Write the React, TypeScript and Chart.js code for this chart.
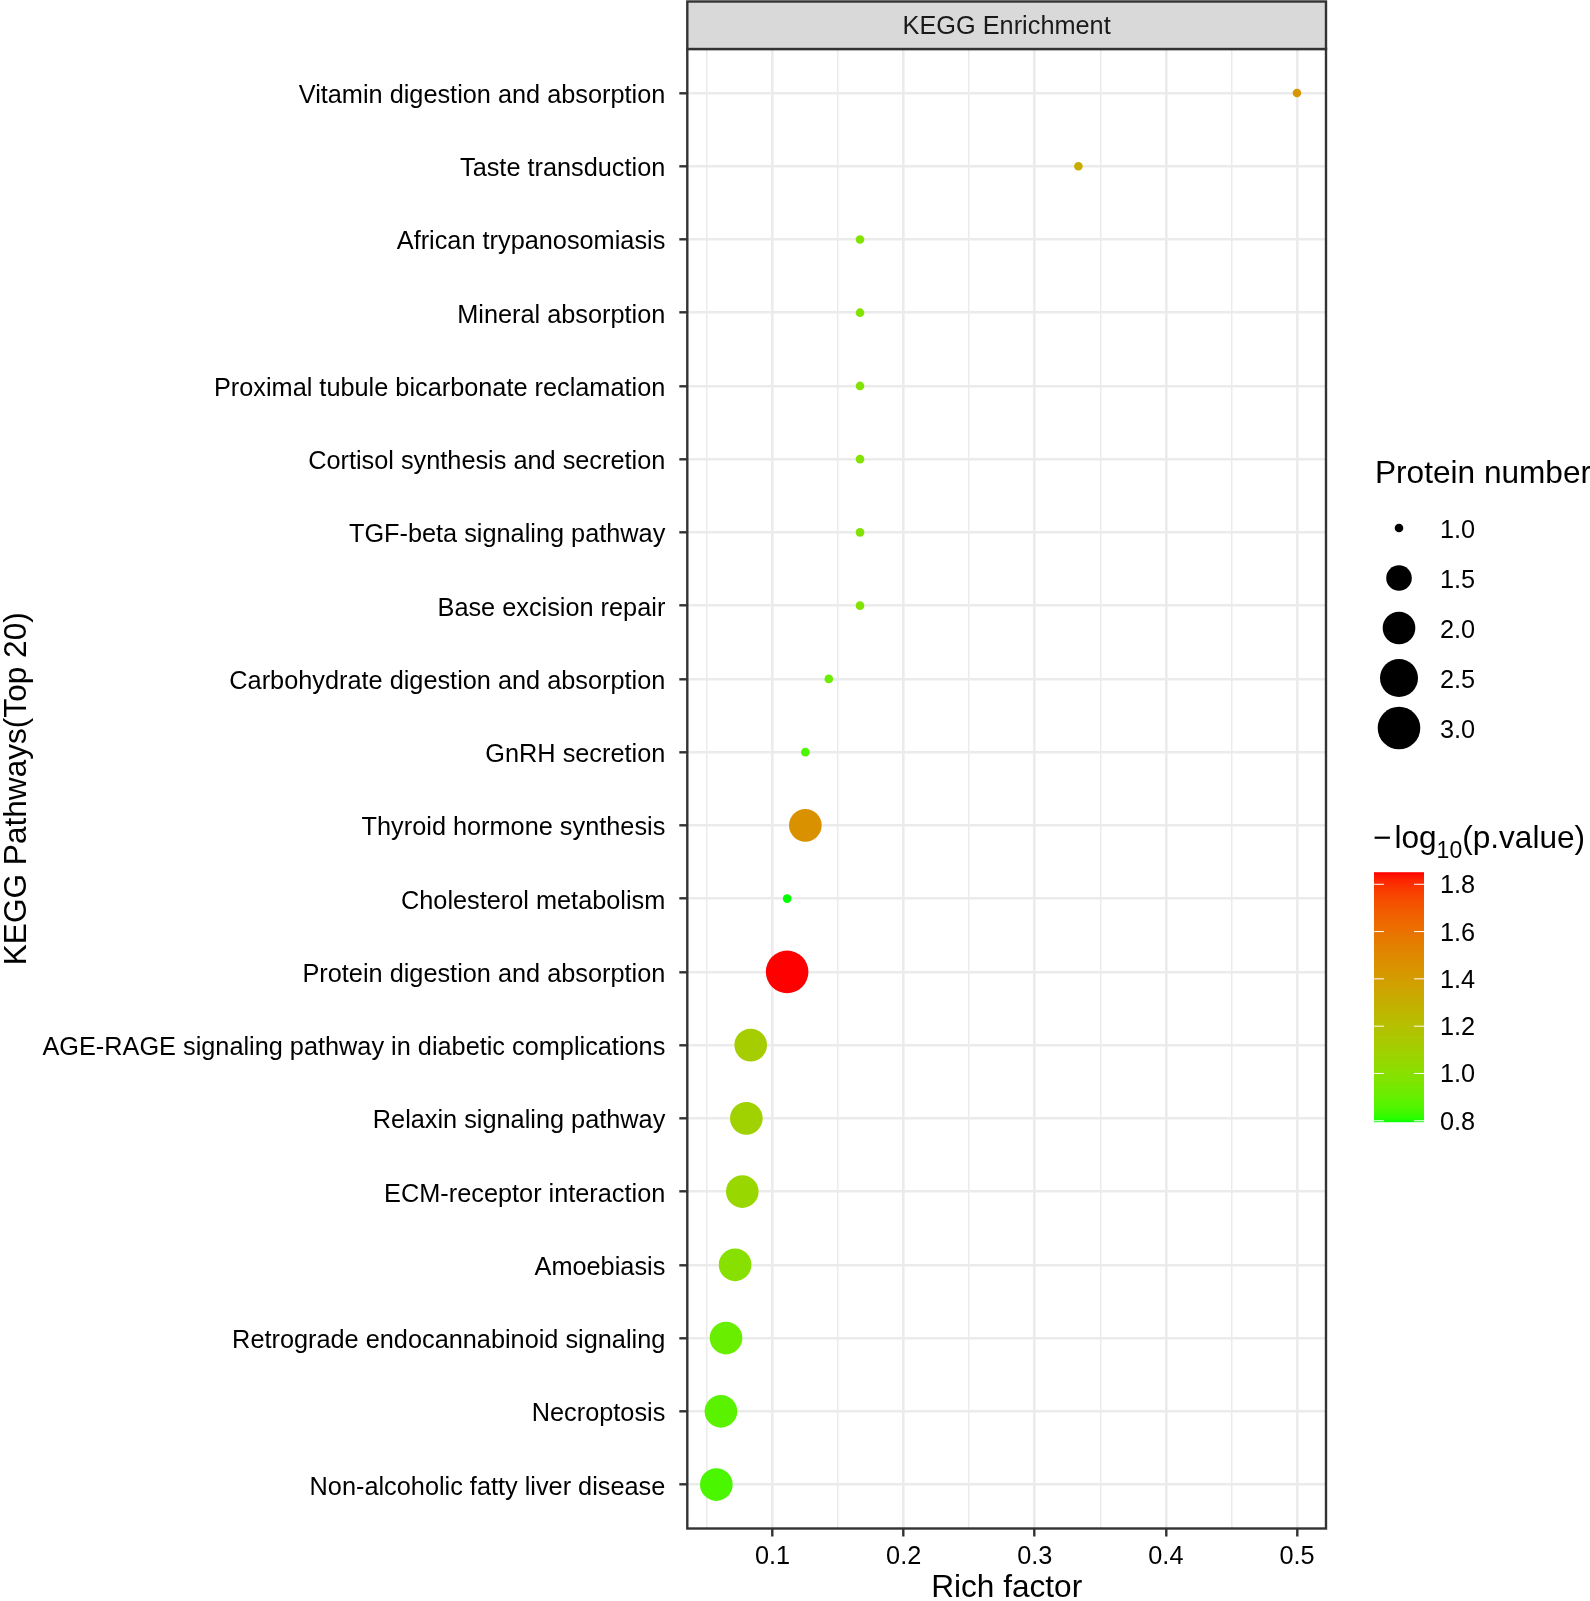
import React, { useEffect, useRef } from 'react';
import { Chart, registerables } from 'chart.js';

Chart.register(...registerables);

// ---------------- data (top to bottom) ----------------
const pathways = [
  'Vitamin digestion and absorption',
  'Taste transduction',
  'African trypanosomiasis',
  'Mineral absorption',
  'Proximal tubule bicarbonate reclamation',
  'Cortisol synthesis and secretion',
  'TGF-beta signaling pathway',
  'Base excision repair',
  'Carbohydrate digestion and absorption',
  'GnRH secretion',
  'Thyroid hormone synthesis',
  'Cholesterol metabolism',
  'Protein digestion and absorption',
  'AGE-RAGE signaling pathway in diabetic complications',
  'Relaxin signaling pathway',
  'ECM-receptor interaction',
  'Amoebiasis',
  'Retrograde endocannabinoid signaling',
  'Necroptosis',
  'Non-alcoholic fatty liver disease',
];
const richFactor = [
  0.5, 0.3333, 0.1667, 0.1667, 0.1667, 0.1667, 0.1667, 0.1667, 0.1429, 0.125,
  0.125, 0.1111, 0.1111, 0.0833, 0.08, 0.0769, 0.0714, 0.0645, 0.0606, 0.0571,
];
const proteinNumber = [1, 1, 1, 1, 1, 1, 1, 1, 1, 1, 2, 1, 3, 2, 2, 2, 2, 2, 2, 2];
const negLog10P = [
  1.43, 1.31, 0.98, 0.98, 0.98, 0.98, 0.98, 0.98, 0.91, 0.85,
  1.46, 0.796, 1.849, 1.12, 1.09, 1.06, 1.0, 0.91, 0.88, 0.85,
];
const xTickValues = [0.05, 0.1, 0.15, 0.2, 0.25, 0.3, 0.35, 0.4, 0.45, 0.5];
const sizeLegendValues = [1.0, 1.5, 2.0, 2.5, 3.0];
const sizeLegendLabels = ['1.0', '1.5', '2.0', '2.5', '3.0'];
const colorbarTicks = [0.8, 1.0, 1.2, 1.4, 1.6, 1.8];
const colorbarTickLabels = ['0.8', '1.0', '1.2', '1.4', '1.6', '1.8'];

// ---------------- styling helpers ----------------
const W = 1590;
const H = 1601;
const FONT = '"Liberation Sans", Arial, Helvetica, sans-serif';
const PANEL = { left: 687.3, right: 1326, top: 49, bottom: 1528.5 };

const N = pathways.length;
const cMin = Math.min(...negLog10P);
const cMax = Math.max(...negLog10P);
const sMin = Math.min(...proteinNumber);
const sMax = Math.max(...proteinNumber);
const rfMin = Math.min(...richFactor);
const rfMax = Math.max(...richFactor);
const rfRange = rfMax - rfMin;

function srgbToLinear(c: number) {
  c /= 255;
  return c <= 0.04045 ? c / 12.92 : Math.pow((c + 0.055) / 1.055, 2.4);
}
function linearToSrgb(c: number) {
  c = Math.max(0, Math.min(1, c));
  const v = c <= 0.0031308 ? 12.92 * c : 1.055 * Math.pow(c, 1 / 2.4) - 0.055;
  return Math.round(v * 255);
}
function rgbToLab(r: number, g: number, b: number) {
  const R = srgbToLinear(r), G = srgbToLinear(g), B = srgbToLinear(b);
  const X = (0.4124 * R + 0.3576 * G + 0.1805 * B) / 0.95047;
  const Y = 0.2126 * R + 0.7152 * G + 0.0722 * B;
  const Z = (0.0193 * R + 0.1192 * G + 0.9505 * B) / 1.08883;
  const f = (t: number) => (t > 0.008856 ? Math.cbrt(t) : 7.787 * t + 16 / 116);
  const fx = f(X), fy = f(Y), fz = f(Z);
  return [116 * fy - 16, 500 * (fx - fy), 200 * (fy - fz)];
}
function labToRgb(L: number, a: number, b: number) {
  const fy = (L + 16) / 116;
  const fx = fy + a / 500;
  const fz = fy - b / 200;
  const inv = (t: number) => (t > 0.206893 ? t * t * t : (t - 16 / 116) / 7.787);
  const X = 0.95047 * inv(fx), Y = inv(fy), Z = 1.08883 * inv(fz);
  const R = 3.2406 * X - 1.5372 * Y - 0.4986 * Z;
  const G = -0.9689 * X + 1.8758 * Y + 0.0415 * Z;
  const B = 0.0557 * X - 0.204 * Y + 1.057 * Z;
  return `rgb(${linearToSrgb(R)},${linearToSrgb(G)},${linearToSrgb(B)})`;
}
const LOW = rgbToLab(0, 255, 0);
const HIGH = rgbToLab(255, 0, 0);
function colorFor(v: number) {
  const t = Math.max(0, Math.min(1, (v - cMin) / (cMax - cMin)));
  return labToRgb(
    LOW[0] + (HIGH[0] - LOW[0]) * t,
    LOW[1] + (HIGH[1] - LOW[1]) * t,
    LOW[2] + (HIGH[2] - LOW[2]) * t,
  );
}
function radiusFor(n: number) {
  const t = (n - sMin) / (sMax - sMin);
  const size = 1 + 5 * Math.sqrt(Math.max(0, t));
  return (6.8 * size + 1.8) / 2;
}
const isMajor = (v: number) => Math.abs(v * 10 - Math.round(v * 10)) < 1e-6;

const overlayPlugin = {
  id: 'ggOverlay',
  afterDraw(chart: any) {
    const ctx: CanvasRenderingContext2D = chart.ctx;
    const ca = chart.chartArea;
    ctx.save();
    // panel border
    ctx.strokeStyle = '#333333';
    ctx.lineWidth = 2.4;
    ctx.strokeRect(ca.left, ca.top, ca.right - ca.left, ca.bottom - ca.top);
    // strip
    ctx.fillStyle = '#D9D9D9';
    ctx.fillRect(ca.left, 1.5, ca.right - ca.left, ca.top - 1.5);
    ctx.strokeRect(ca.left, 1.5, ca.right - ca.left, ca.top - 1.5);
    ctx.fillStyle = '#1A1A1A';
    ctx.font = `25.3px ${FONT}`;
    ctx.textAlign = 'center';
    ctx.textBaseline = 'alphabetic';
    ctx.fillText('KEGG Enrichment', (ca.left + ca.right) / 2, 34);

    // size legend
    ctx.textAlign = 'left';
    ctx.fillStyle = '#000';
    ctx.font = `31.6px ${FONT}`;
    ctx.fillText('Protein number', 1375, 482.6);
    ctx.font = `25.3px ${FONT}`;
    ctx.textBaseline = 'middle';
    sizeLegendValues.forEach((v, i) => {
      const cy = 528 + i * 50;
      ctx.beginPath();
      ctx.arc(1399, cy, radiusFor(v), 0, Math.PI * 2);
      ctx.fillStyle = '#000';
      ctx.fill();
      ctx.fillText(sizeLegendLabels[i], 1440, cy + 3);
    });

    // colorbar legend title: −log10(p.value)
    ctx.textBaseline = 'alphabetic';
    ctx.font = `31.6px ${FONT}`;
    let x = 1373;
    const base = 848;
    ctx.fillText('\u2212', x, base);
    x += ctx.measureText('\u2212').width + 3;
    ctx.fillText('log', x, base);
    x += ctx.measureText('log').width;
    ctx.font = `23px ${FONT}`;
    ctx.fillText('10', x, base + 10);
    x += ctx.measureText('10').width;
    ctx.font = `31.6px ${FONT}`;
    ctx.fillText('(p.value)', x, base);

    // colorbar
    const barL = 1374, barR = 1424, barTop = 872.7, barBot = 1121.7;
    const nbin = 300;
    const bh = (barBot - barTop) / nbin;
    for (let k = 0; k < nbin; k++) {
      const v = cMin + ((k + 0.5) / nbin) * (cMax - cMin);
      ctx.fillStyle = colorFor(v);
      ctx.fillRect(barL, barBot - (k + 1) * bh - 0.5, barR - barL, bh + 1);
    }
    const yOf = (v: number) => barBot - ((v - cMin) / (cMax - cMin)) * (barBot - barTop);
    ctx.strokeStyle = '#FFFFFF';
    ctx.lineWidth = 1;
    ctx.font = `25.3px ${FONT}`;
    ctx.textBaseline = 'middle';
    colorbarTicks.forEach((v, i) => {
      const y = yOf(v);
      ctx.beginPath();
      ctx.moveTo(barL, y);
      ctx.lineTo(barL + 10, y);
      ctx.moveTo(barR - 10, y);
      ctx.lineTo(barR, y);
      ctx.stroke();
      ctx.fillStyle = '#000';
      ctx.fillText(colorbarTickLabels[i], 1440, y + 2);
    });
    ctx.restore();
  },
};

export default function App() {
  const ref = useRef<HTMLCanvasElement | null>(null);
  useEffect(() => {
    if (!ref.current) return;
    const chart = new Chart(ref.current, {
      type: 'bubble',
      data: {
        datasets: [
          {
            data: pathways.map((_, i) => ({
              x: richFactor[i],
              y: N - i,
              r: radiusFor(proteinNumber[i]),
            })),
            backgroundColor: negLog10P.map((v) => colorFor(v)),
            borderWidth: 0,
            hoverRadius: 0,
          } as any,
        ],
      },
      options: {
        responsive: false,
        animation: false,
        events: [],
        layout: { padding: { top: PANEL.top, right: W - PANEL.right, left: 0, bottom: 0 } },
        plugins: { legend: { display: false }, tooltip: { enabled: false } },
        scales: {
          x: {
            type: 'linear',
            min: rfMin - 0.05 * rfRange,
            max: rfMax + 0.05 * rfRange,
            afterFit: (s: any) => {
              s.height = H - PANEL.bottom;
            },
            afterBuildTicks: (s: any) => {
              s.ticks = xTickValues.map((v) => ({ value: v }));
            },
            ticks: {
              autoSkip: false,
              maxRotation: 0,
              padding: 5,
              color: '#000',
              font: { family: FONT, size: 25.3 },
              callback: (v: any) => (isMajor(Number(v)) ? Number(v).toFixed(1) : ''),
            },
            grid: {
              color: '#EBEBEB',
              lineWidth: (c: any) => (c.tick && !isMajor(c.tick.value) ? 1.5 : 2.6),
              tickColor: (c: any) => (c.tick && !isMajor(c.tick.value) ? 'rgba(0,0,0,0)' : '#333333'),
              tickLength: 8,
              tickWidth: 2.4,
            },
            border: { display: false },
            title: {
              display: true,
              text: 'Rich factor',
              color: '#000',
              font: { family: FONT, size: 31.6, lineHeight: 0.82 },
              padding: 0,
            },
          },
          y: {
            type: 'linear',
            min: 1 - 0.6,
            max: N + 0.6,
            afterFit: (s: any) => {
              s.width = PANEL.left;
            },
            afterBuildTicks: (s: any) => {
              s.ticks = pathways.map((_, i) => ({ value: N - i }));
            },
            ticks: {
              autoSkip: false,
              padding: 14,
              labelOffset: 3,
              color: '#000',
              font: { family: FONT, size: 25.3 },
              callback: (v: any) => pathways[N - Number(v)],
            },
            grid: {
              color: '#EBEBEB',
              lineWidth: 2.6,
              tickColor: '#333333',
              tickLength: 8,
              tickWidth: 2.4,
            },
            border: { display: false },
            title: {
              display: true,
              text: 'KEGG Pathways(Top 20)',
              color: '#000',
              font: { family: FONT, size: 31.6, lineHeight: 1 },
              padding: { top: 1, bottom: 0 },
            },
          },
        },
      } as any,
      plugins: [overlayPlugin],
    });
    return () => chart.destroy();
  }, []);
  return (
    <div style={{ position: 'absolute', left: 0, top: 0, width: W, height: H, background: '#fff' }}>
      <canvas ref={ref} width={W} height={H} style={{ display: 'block', width: W, height: H }} />
    </div>
  );
}
